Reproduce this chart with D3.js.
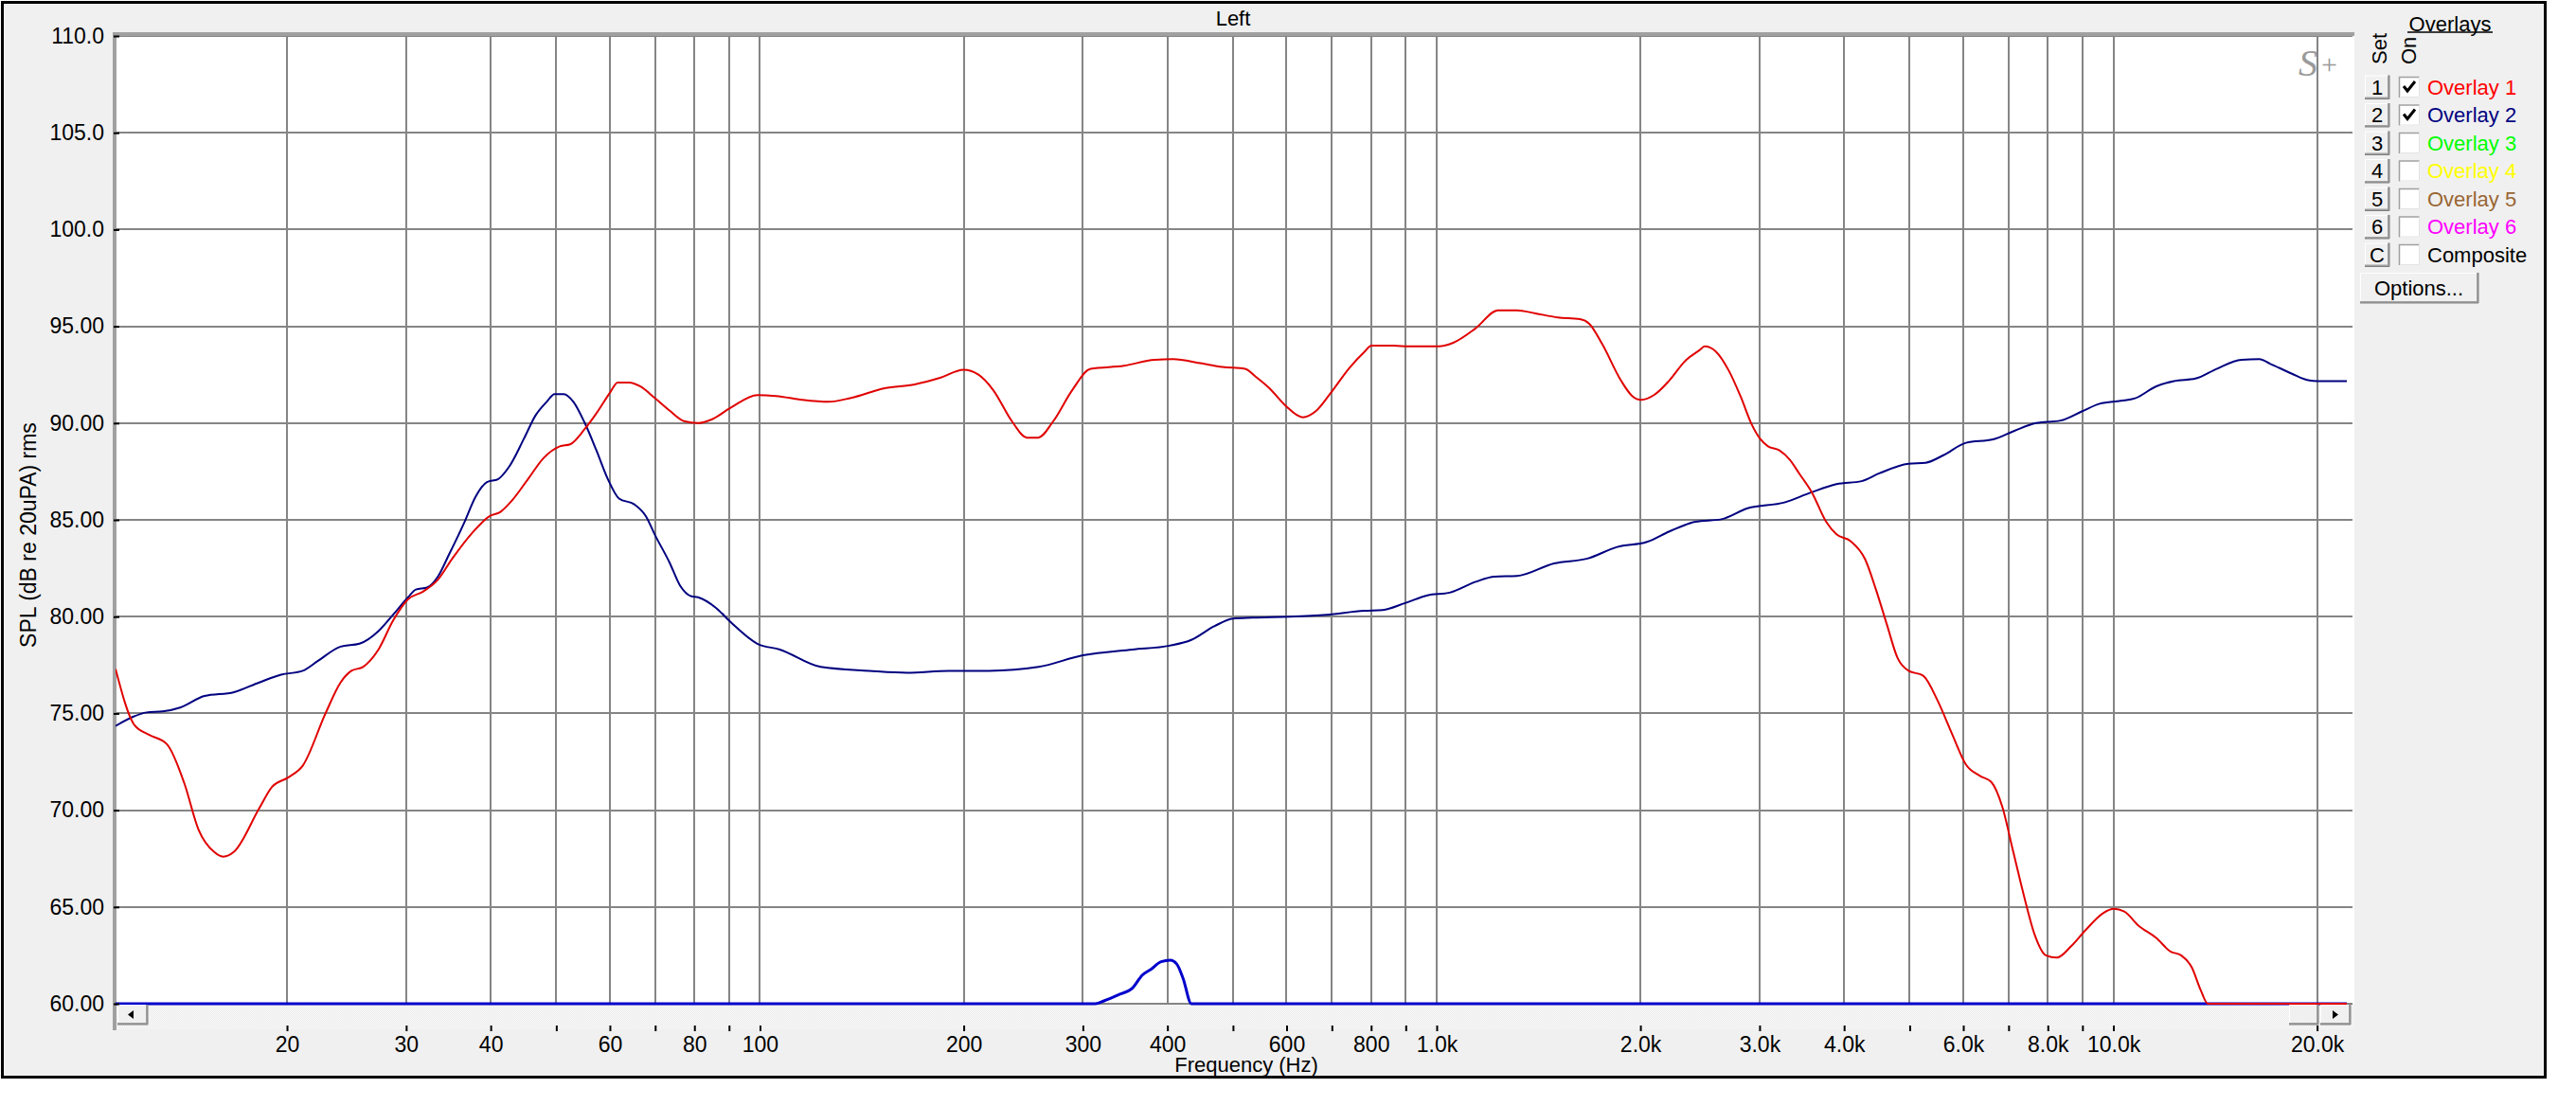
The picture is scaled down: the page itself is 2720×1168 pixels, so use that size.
<!DOCTYPE html>
<html><head><meta charset="utf-8">
<script src="https://cdn.jsdelivr.net/npm/d3@7"></script>
<style>
body{margin:0;background:#fff;}
svg text{font-family:"Liberation Sans",Arial,sans-serif;}
</style>
</head><body>
<script>
// ---------------- DATA ----------------
const chartTitle = "Left";
const xAxisTitle = "Frequency (Hz)";
const yAxisTitle = "SPL (dB re 20uPA) rms";

const xGridValues = [20,30,40,50,60,70,80,90,100,200,300,400,500,600,700,800,900,1000,2000,3000,4000,5000,6000,7000,8000,9000,10000,20000];
const xLabelValues = [20,30,40,60,80,100,200,300,400,600,800,1000,2000,3000,4000,6000,8000,10000,20000];
const xLabelTexts = ["20","30","40","60","80","100","200","300","400","600","800","1.0k","2.0k","3.0k","4.0k","6.0k","8.0k","10.0k","20.0k"];
const yTickValues = [110,105,100,95,90,85,80,75,70,65,60];
const yTickTexts = ["110.0","105.0","100.0","95.00","90.00","85.00","80.00","75.00","70.00","65.00","60.00"];

// Overlay 1 (red)
const overlay1Freq = [11.16,11.9,12.5,13.3,14.1,14.8,15.6,16.1,16.7,18.2,19.0,20.1,21.1,22.8,24.0,24.9,25.9,27.3,28.7,30.2,31.8,33.4,35.1,37.5,39.9,41.3,43.0,45.4,47.9,50.6,52.4,55.1,57.3,60.1,61.6,64.1,66.5,69.9,73.5,77.2,81,85,90.6,99.1,105.6,115.5,126.3,136.3,152.8,169.3,185,199.8,210.3,221.2,235.6,248,257.7,271.3,289.3,308,345,383,408,447,482,521,540,566,598,634,662,697,743,781,801,864,909,1006,1058,1142,1232,1313,1399,1509,1628,1681,1757,1872,1945,2006,2099,2207,2336,2442,2490,2585,2703,2811,2924,3004,3088,3206,3326,3433,3587,3763,3898,4090,4296,4458,4626,4800,4981,5230,5492,5766,6056,6359,6599,6849,7107,7376,7657,7946,8247,8660,9090,9656,10012,10380,10890,11570,12145,12593,13060,13460,13790,22130];
const overlay1Db = [77.3,74.4,73.9,73.4,71.4,69.0,67.85,67.6,67.85,70.1,71.2,71.7,72.3,75.0,76.6,77.2,77.4,78.3,79.8,80.9,81.3,81.9,83.0,84.3,85.2,85.4,86.0,87.1,88.2,88.8,88.9,89.7,90.5,91.6,92.1,92.1,91.9,91.3,90.65,90.1,90.0,90.2,90.8,91.45,91.4,91.2,91.1,91.3,91.8,92.0,92.35,92.75,92.5,91.7,90.1,89.25,89.25,90.1,91.7,92.8,92.96,93.27,93.3,93.1,92.9,92.8,92.4,91.8,90.9,90.3,90.6,91.55,92.85,93.66,94.0,94.0,93.96,93.96,94.15,94.9,95.83,95.83,95.67,95.46,95.37,95.13,94.07,92.2,91.4,91.2,91.47,92.2,93.26,93.75,93.96,93.7,92.7,91.4,89.9,89.2,88.8,88.6,88.1,87.4,86.4,84.9,84.25,83.9,82.97,81.4,79.6,77.85,77.2,76.96,75.7,74.0,72.35,71.76,71.46,70.2,67.9,65.58,63.53,62.5,62.38,62.97,63.79,64.68,64.9,64.76,64.04,63.4,62.7,62.5,61.87,60.7,60.0,60.0];

// Overlay 2 (navy)
const overlay2Freq = [11.16,11.8,12.4,13.1,13.9,15.1,16.7,18.2,19.6,21.1,22.2,24.0,25.6,27.3,28.7,30.2,31.0,32.2,33.4,34.7,36.6,38.0,39.5,41.0,42.6,44.8,46.6,48.4,49.7,51.3,53.0,55.1,57.3,59.6,61.9,65.2,67.8,70.0,73.5,76.2,79.2,81,86.1,90.6,99.1,107,123,145,165,190,218,258,300,355,403,434,469,500,534,606,688,781,832,898,969,1045,1142,1217,1313,1491,1670,1848,2045,2207,2412,2635,2880,3265,3565,3898,4245,4507,4981,5278,5608,6056,6640,7140,7685,8355,8980,9541,10257,10765,11570,12290,13220,14205,15460,16430,17040,18330,19490,20000,22130];
const overlay2Db = [74.35,74.8,75.05,75.1,75.3,75.9,76.1,76.6,77.0,77.2,77.7,78.45,78.6,79.25,80.1,81.0,81.4,81.5,82.05,83.2,84.9,86.2,86.95,87.1,87.75,89.2,90.4,91.1,91.5,91.5,91.1,90.0,88.6,87.1,86.1,85.8,85.2,84.2,82.8,81.6,81.05,81.0,80.45,79.7,78.6,78.3,77.4,77.2,77.1,77.2,77.2,77.4,78.0,78.3,78.5,78.8,79.5,79.9,79.95,80.0,80.1,80.3,80.34,80.7,81.1,81.24,81.8,82.07,82.1,82.75,83.0,83.6,83.86,84.4,84.9,85.03,85.6,85.9,86.4,86.85,87.0,87.4,87.9,87.95,88.34,88.98,89.16,89.6,90.0,90.13,90.6,91.0,91.15,91.28,91.9,92.17,92.3,92.8,93.27,93.3,93.07,92.56,92.2,92.17,92.17];

// Current measurement (bright blue)
const currentFreq = [11.16,313,323,339,355,367,379,391.5,404,413,422,434,22130];
const currentDb = [60,60.0,60.16,60.47,60.8,61.47,61.8,62.17,62.25,62.05,61.3,60.0,60.0];

// Legend
const legendSet = ["1","2","3","4","5","6","C"];
const legendLabels = ["Overlay 1","Overlay 2","Overlay 3","Overlay 4","Overlay 5","Overlay 6","Composite"];
const legendColors = ["#ff0000","#000080","#00ff00","#ffff00","#996633","#ff00ff","#000000"];
const legendOn = [true,true,false,false,false,false,false];

// ---------------- CHART ----------------
const W = 2720, H = 1168;
const plot = {left:122, right:2484, top:38, bottom:1060};
const svg = d3.select("body").append("svg").attr("width",W).attr("height",H);

const x = d3.scaleLog().domain([11.16, 22560]).range([plot.left, plot.right]);
const y = d3.scaleLinear().domain([60,110]).range([plot.bottom, plot.top]);

// frame
svg.append("rect").attr("x",0).attr("y",0).attr("width",W).attr("height",H).attr("fill","#fff");
svg.append("rect").attr("x",2.5).attr("y",2.5).attr("width",2685).attr("height",1135)
  .attr("fill","#f0f0f0").attr("stroke","#000").attr("stroke-width",3);

// plot background
svg.append("rect").attr("x",plot.left).attr("y",plot.top).attr("width",plot.right-plot.left+2).attr("height",plot.bottom-plot.top)
  .attr("fill","#fff");

// scrollbar area pattern
const defs = svg.append("defs");
const pat = defs.append("pattern").attr("id","dots").attr("width",2).attr("height",2).attr("patternUnits","userSpaceOnUse");
pat.append("rect").attr("width",2).attr("height",2).attr("fill","#ffffff");
pat.append("rect").attr("width",1).attr("height",1).attr("fill","#e6e6e6");
pat.append("rect").attr("x",1).attr("y",1).attr("width",1).attr("height",1).attr("fill","#e6e6e6");
svg.append("rect").attr("x",plot.left).attr("y",plot.bottom).attr("width",plot.right-plot.left+2).attr("height",27)
  .attr("fill","url(#dots)");

defs.append("clipPath").attr("id","clip").append("rect")
  .attr("x",plot.left).attr("y",plot.top-2).attr("width",plot.right-plot.left).attr("height",plot.bottom-plot.top+4);

// grid
const grid = svg.append("g").attr("stroke","#858585").attr("stroke-width",2).attr("shape-rendering","crispEdges");
grid.selectAll("line.v").data(xGridValues).join("line").attr("class","v")
  .attr("x1",d=>Math.round(x(d))).attr("x2",d=>Math.round(x(d))).attr("y1",plot.top).attr("y2",plot.bottom);
grid.selectAll("line.h").data(yTickValues).join("line").attr("class","h")
  .attr("x1",plot.left).attr("x2",plot.right).attr("y1",d=>Math.round(y(d))).attr("y2",d=>Math.round(y(d)));

// plot borders
svg.append("rect").attr("x",120).attr("y",34).attr("width",plot.right-118).attr("height",4).attr("fill","#a0a0a0");
svg.append("rect").attr("x",119).attr("y",34).attr("width",4).attr("height",1054).attr("fill","#a0a0a0");

// S+ logo
svg.append("text").attr("x",2427).attr("y",80).attr("font-size",40).attr("font-style","italic")
  .style("font-family","'Liberation Serif','DejaVu Serif',serif").attr("fill","#9a9a9a").text("S");
svg.append("text").attr("x",2451).attr("y",78).attr("font-size",30)
  .style("font-family","'Liberation Serif','DejaVu Serif',serif").attr("fill","#9a9a9a").text("+");

// curves
const line = d3.line().x(d=>x(d[0])).y(d=>y(d[1])).curve(d3.curveMonotoneX);
const curves = svg.append("g").attr("clip-path","url(#clip)").attr("fill","none");
curves.append("path").datum(d3.zip(currentFreq,currentDb)).attr("d",line).attr("stroke","#0000cc").attr("stroke-width",3);
curves.append("path").datum(d3.zip(overlay2Freq,overlay2Db)).attr("d",line).attr("stroke","#000080").attr("stroke-width",2);
curves.append("path").datum(d3.zip(overlay1Freq,overlay1Db)).attr("d",line).attr("stroke","#e00000").attr("stroke-width",2);

// scrollbar buttons
function bevelButton(g, bx, by, bw, bh){
  g.append("rect").attr("x",bx).attr("y",by).attr("width",bw).attr("height",bh).attr("fill","#f0f0f0");
  g.append("path").attr("d",`M${bx+0.5},${by+bh}V${by+0.5}H${bx+bw}`).attr("stroke","#ffffff").attr("stroke-width",1).attr("fill","none");
  g.append("path").attr("d",`M${bx},${by+bh-1}H${bx+bw-1}V${by}`).attr("stroke","#a0a0a0").attr("stroke-width",2).attr("fill","none");
  g.append("path").attr("d",`M${bx},${by+bh}H${bx+bw}V${by}`).attr("stroke","#808080").attr("stroke-width",1).attr("fill","none");
}
const sb = svg.append("g");
bevelButton(sb,124,1061,32,21);
sb.append("path").attr("d","M135,1071.5L141,1067V1076Z").attr("fill","#000");
bevelButton(sb,2417,1061,31,21);
bevelButton(sb,2450,1061,32,21);
sb.append("path").attr("d","M2469,1071.5L2463,1067V1076Z").attr("fill","#000");

// x axis
const xAxis = d3.axisBottom(x).tickValues(xGridValues).tickSize(6).tickPadding(6)
  .tickFormat(d=>{const i = xLabelValues.indexOf(d); return i>=0 ? xLabelTexts[i] : "";});
const gx = svg.append("g").attr("transform",`translate(0,1083)`).call(xAxis);
gx.select(".domain").remove();
gx.selectAll(".tick line").attr("stroke","#000").attr("stroke-width",2);
gx.selectAll(".tick text").attr("font-size",23).attr("fill","#000").style("font-family","'Liberation Sans',Arial,sans-serif");

// y axis
const yAxis = d3.axisLeft(y).tickValues(yTickValues).tickSize(6).tickPadding(10)
  .tickFormat((d,i)=>yTickTexts[yTickValues.indexOf(d)]);
const gy = svg.append("g").attr("transform",`translate(126,0)`).call(yAxis);
gy.select(".domain").remove();
gy.selectAll(".tick line").attr("stroke","#000").attr("stroke-width",2);
gy.selectAll(".tick text").attr("font-size",23).attr("fill","#000").style("font-family","'Liberation Sans',Arial,sans-serif");

// titles
svg.append("text").attr("x",1302).attr("y",19).attr("dy","0.35em").attr("text-anchor","middle").attr("font-size",22).text(chartTitle);
svg.append("text").attr("x",1316).attr("y",1124).attr("dy","0.35em").attr("text-anchor","middle").attr("font-size",22).text(xAxisTitle);
svg.append("text").attr("transform","translate(30,565) rotate(-90)").attr("dy","0.35em").attr("text-anchor","middle").attr("font-size",23).text(yAxisTitle);

// legend
const lg = svg.append("g");
lg.append("text").attr("x",2587).attr("y",25).attr("dy","0.35em").attr("text-anchor","middle").attr("font-size",22).text("Overlays");
lg.append("line").attr("x1",2542).attr("x2",2632).attr("y1",34).attr("y2",34).attr("stroke","#000").attr("stroke-width",1.5);
lg.append("text").attr("transform","translate(2512,68) rotate(-90)").attr("dy","0.35em").attr("font-size",22).text("Set");
lg.append("text").attr("transform","translate(2543,68) rotate(-90)").attr("dy","0.35em").attr("font-size",22).text("On");

const rowY0 = 92, rowStep = 29.5;
legendLabels.forEach((lab,i)=>{
  const cy = rowY0 + i*rowStep;
  const b = lg.append("g");
  bevelButton(b,2497,cy-12.5,26,25);
  b.append("text").attr("x",2510).attr("y",cy).attr("dy","0.35em").attr("text-anchor","middle").attr("font-size",22).text(legendSet[i]);
  // checkbox
  lg.append("rect").attr("x",2533).attr("y",cy-11).attr("width",22).attr("height",22).attr("fill","#fff");
  lg.append("path").attr("d",`M2533.5,${cy+11}V${cy-10.5}H2555`).attr("stroke","#a0a0a0").attr("stroke-width",1.5).attr("fill","none");
  lg.append("path").attr("d",`M2534,${cy+10.5}H2554.5V${cy-11}`).attr("stroke","#e3e3e3").attr("stroke-width",1).attr("fill","none");
  if(legendOn[i]){
    lg.append("path").attr("d",`M2538,${cy-1}L2542,${cy+4}L2550,${cy-6}`).attr("stroke","#000").attr("stroke-width",3).attr("fill","none");
  }
  lg.append("text").attr("x",2563).attr("y",cy).attr("dy","0.35em").attr("font-size",22).attr("fill",legendColors[i]).text(lab);
});
// Options button
const ob = lg.append("g");
bevelButton(ob,2492,288,125,32);
ob.append("text").attr("x",2554).attr("y",304).attr("dy","0.35em").attr("text-anchor","middle").attr("font-size",22).text("Options...");
</script>
</body></html>
